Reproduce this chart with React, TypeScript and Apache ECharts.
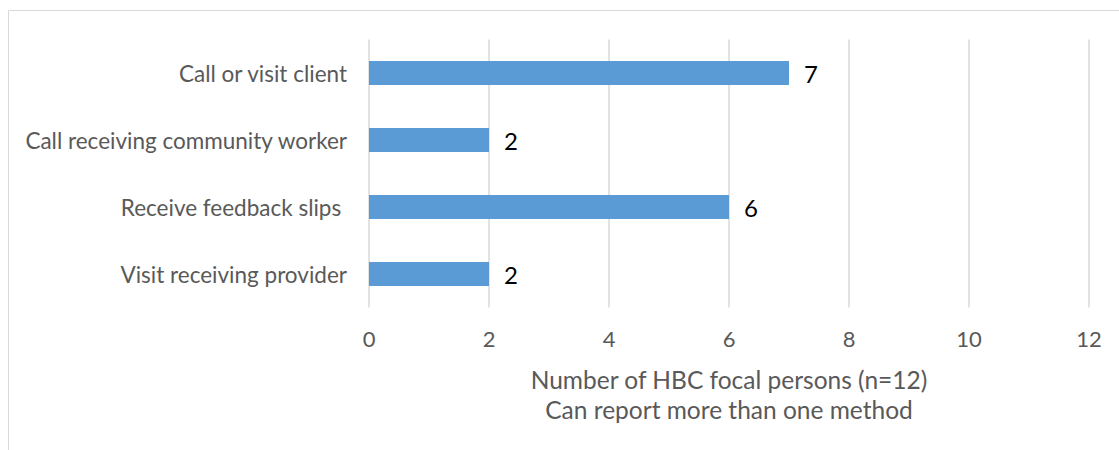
import React, { useEffect, useRef } from "react";
import * as echarts from "echarts";

const categories = [
  "Visit receiving provider",
  "Receive feedback slips ",
  "Call receiving community worker",
  "Call or visit client",
];
const values = [2, 6, 2, 7];
const axisTitle = "Number of HBC focal persons (n=12)\nCan report more than one method";

export default function App() {
  const ref = useRef<HTMLDivElement>(null);
  useEffect(() => {
    const chart = echarts.init(ref.current!, null, { renderer: "svg" });
    chart.setOption({
      animation: false,
      textStyle: { fontFamily: "Lato" },
      grid: { left: 369, top: 39.5, width: 720, height: 268, containLabel: false },
      graphic: [
        {
          type: "rect",
          shape: { x: 8.5, y: 10.5, width: 1200, height: 600 },
          style: { fill: "none", stroke: "#d9d9d9", lineWidth: 1 },
          silent: true,
        },
      ],
      xAxis: {
        type: "value",
        min: 0,
        max: 12,
        interval: 2,
        axisLine: { show: false },
        axisTick: { show: false },
        splitLine: { show: true, lineStyle: { color: "#d9d9d9", width: 1.5 } },
        axisLabel: { color: "#595959", fontSize: 22, margin: 20, fontFamily: "Lato" },
        name: axisTitle,
        nameLocation: "middle",
        nameGap: 57,
        nameTextStyle: { color: "#595959", fontSize: 24.5, lineHeight: 30, fontFamily: "Lato" },
      },
      yAxis: {
        type: "category",
        data: categories,
        axisLine: { show: false },
        axisTick: { show: false },
        axisLabel: { color: "#595959", fontSize: 22.5, margin: 22, fontFamily: "Lato" },
      },
      series: [
        {
          type: "bar",
          data: values,
          barWidth: 24,
          itemStyle: { color: "#5b9bd5" },
          label: {
            show: true,
            position: "right",
            distance: 15,
            color: "#000",
            fontSize: 24,
            fontFamily: "Lato",
          },
        },
      ],
    });
    return () => chart.dispose();
  }, []);
  return (
    <div
      ref={ref}
      style={{ position: "absolute", left: 0, top: 0, width: 1119, height: 450 }}
    />
  );
}
